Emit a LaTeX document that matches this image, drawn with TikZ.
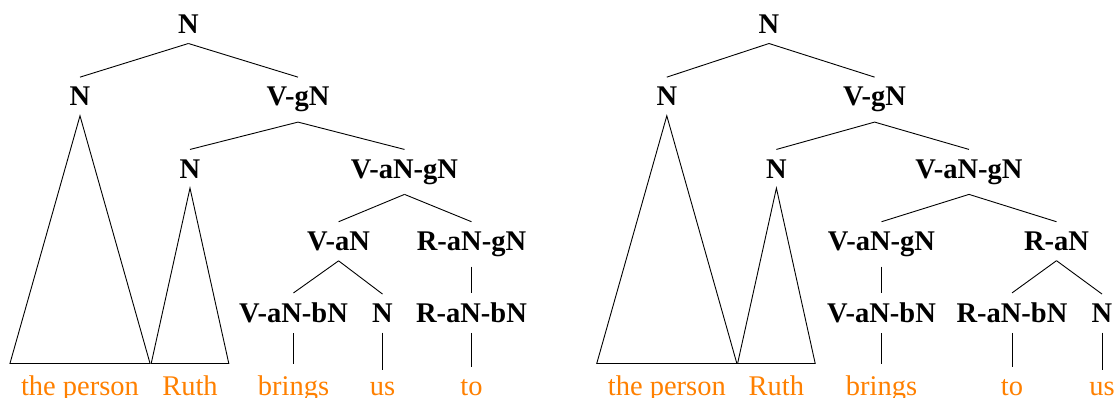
\documentclass[tikz,border=0pt]{standalone}
\usepackage{fontspec}
\setmainfont{Liberation Serif}
\usepackage{xcolor}
\usepackage{tikz}
\usetikzlibrary{positioning}

\definecolor{wordorange}{RGB}{255,128,0}

\begin{document}
\begin{tikzpicture}[
    x=1pt, y=-1pt,
    on grid,
    node distance=72.3pt,
    every node/.style={font=\fontsize{28.5}{34}\selectfont, inner sep=9.8pt},
    cat/.style={font=\fontsize{28.5}{34}\selectfont\bfseries, anchor=base},
    word/.style={text=wordorange, anchor=base, inner xsep=10.9pt, inner ysep=11.5pt},
    branch/.style={line width=0.9pt},
]
\useasboundingbox (0,0) rectangle (1118,398);

% Left tree
\node[cat] (topL) at (188.4,33.5) {N};
\node[below left=72.3pt and 108.4pt of topL.base, cat] (nL1) {N};
\node[below right=72.3pt and 109.6pt of topL.base, cat] (vgL) {V-gN};
\node[below left=72.3pt and 108pt of vgL.base, cat] (nL2) {N};
\node[below right=72.3pt and 106.5pt of vgL.base, cat] (vagL) {V-aN-gN};
\node[below left=72.3pt and 65.9pt of vagL.base, cat] (vaL) {V-aN};
\node[below right=72.3pt and 67pt of vagL.base, cat] (ragL) {R-aN-gN};
\node[below left=72.3pt and 45.1pt of vaL.base, cat] (vabL) {V-aN-bN};
\node[below right=72.3pt and 43.9pt of vaL.base, cat] (nL3) {N};
\node[below=of ragL.base, cat] (rabL) {R-aN-bN};

% Left words
\node[below=289.2pt of nL1.base, word] (personL) {the person};
\node[below=216.9pt of nL2.base, word] (ruthL) {Ruth};
\node[below=of vabL.base, word] (bringsL) {brings};
\node[below=of nL3.base, word] (usL) {us};
\node[below=of rabL.base, word] (toL) {to};

% Left branches
\draw[branch] (topL.south) -- (nL1.north);
\draw[branch] (topL.south) -- (vgL.north);
\draw[branch] (vgL.south) -- (nL2.north);
\draw[branch] (vgL.south) -- (vagL.north);
\draw[branch] (vagL.south) -- (vaL.north);
\draw[branch] (vagL.south) -- (ragL.north);
\draw[branch] (vaL.south) -- (vabL.north);
\draw[branch] (vaL.south) -- (nL3.north);
\draw[branch] (ragL.south) -- (rabL.north);
\draw[branch] (nL1.south) -- (personL.north west) -- (personL.north east) -- cycle;
\draw[branch] (nL2.south) -- (ruthL.north west) -- (ruthL.north east) -- cycle;
\draw[branch] (vabL.south) -- (bringsL.north);
\draw[branch] (nL3.south) -- (usL.north);
\draw[branch] (rabL.south) -- (toL.north);

% Right tree
\node[cat] (topR) at (769,33.5) {N};
\node[below left=72.3pt and 102.2pt of topR.base, cat] (nR1) {N};
\node[below right=72.3pt and 105.6pt of topR.base, cat] (vgR) {V-gN};
\node[below left=72.3pt and 98.2pt of vgR.base, cat] (nR2) {N};
\node[below right=72.3pt and 94.4pt of vgR.base, cat] (vagR) {V-aN-gN};
\node[below left=72.3pt and 87.5pt of vagR.base, cat] (vagR2) {V-aN-gN};
\node[below right=72.3pt and 87.5pt of vagR.base, cat] (raR) {R-aN};
\node[below=of vagR2.base, cat] (vabR) {V-aN-bN};
\node[below left=72.3pt and 44.5pt of raR.base, cat] (rabR) {R-aN-bN};
\node[below right=72.3pt and 45.5pt of raR.base, cat] (nR3) {N};

% Right words
\node[below=289.2pt of nR1.base, word] (personR) {the person};
\node[below=216.9pt of nR2.base, word] (ruthR) {Ruth};
\node[below=of vabR.base, word] (bringsR) {brings};
\node[below=of rabR.base, word] (toR) {to};
\node[below=of nR3.base, word] (usR) {us};

% Right branches
\draw[branch] (topR.south) -- (nR1.north);
\draw[branch] (topR.south) -- (vgR.north);
\draw[branch] (vgR.south) -- (nR2.north);
\draw[branch] (vgR.south) -- (vagR.north);
\draw[branch] (vagR.south) -- (vagR2.north);
\draw[branch] (vagR.south) -- (raR.north);
\draw[branch] (vagR2.south) -- (vabR.north);
\draw[branch] (raR.south) -- (rabR.north);
\draw[branch] (raR.south) -- (nR3.north);
\draw[branch] (nR1.south) -- (personR.north west) -- (personR.north east) -- cycle;
\draw[branch] (nR2.south) -- (ruthR.north west) -- (ruthR.north east) -- cycle;
\draw[branch] (vabR.south) -- (bringsR.north);
\draw[branch] (rabR.south) -- (toR.north);
\draw[branch] (nR3.south) -- (usR.north);

\end{tikzpicture}
\end{document}
